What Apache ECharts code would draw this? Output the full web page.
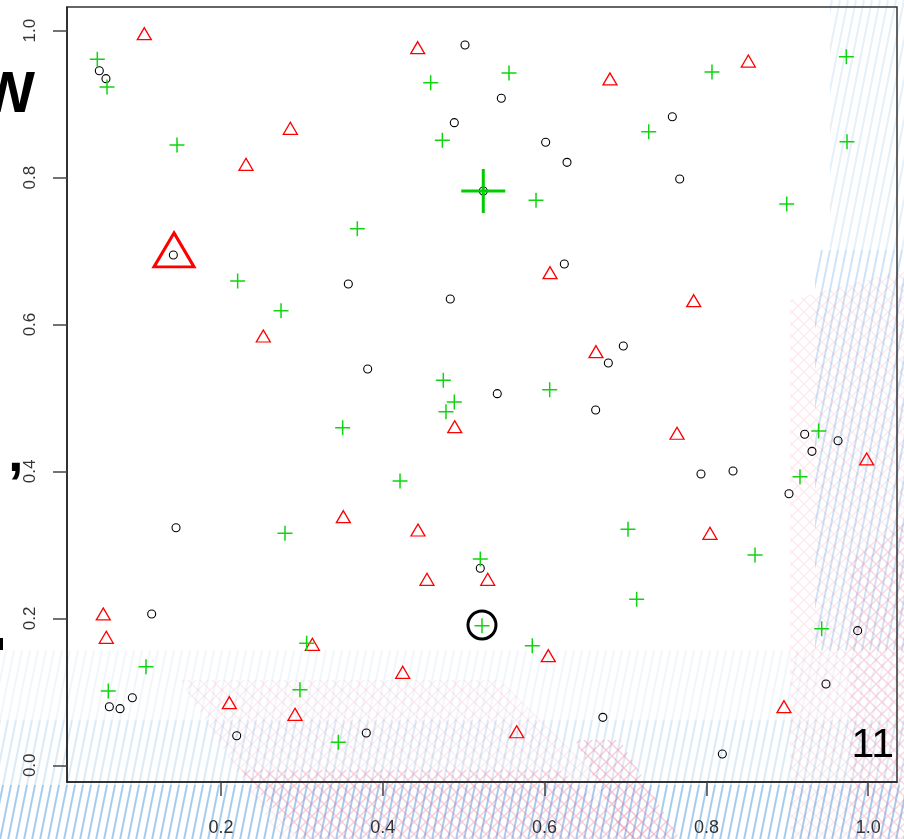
<!DOCTYPE html>
<html>
<head>
<meta charset="utf-8">
<script src="https://cdn.jsdelivr.net/npm/echarts@6/dist/echarts.min.js"></script>
<style>
  html, body { margin: 0; padding: 0; background: #ffffff; }
  #chart { width: 904px; height: 839px; }
</style>
</head>
<body>
<div id="chart"></div>
<script>
// ---- point sets ----
const circleX = [0.5016, 0.5465, 0.0496, 0.0578, 0.4884, 0.6013, 0.6277, 0.6244, 0.5242, 0.7579,
                 0.7670, 0.1411, 0.1444, 0.3574, 0.4834, 0.3813, 0.5415, 0.6631, 0.6973, 0.6788,
                 0.9215, 0.9627, 0.9305, 0.7933, 0.8329, 0.9021, 0.1143, 0.0620, 0.0752, 0.0904,
                 0.2194, 0.5205, 0.3796, 0.6720, 0.9870, 0.9478, 0.8197];
const circleY = [0.9805, 0.9080, 0.9455, 0.9347, 0.8748, 0.8481, 0.8208, 0.6824, 0.7818, 0.8829,
                 0.7981, 0.6947, 0.3234, 0.6552, 0.6348, 0.5395, 0.5059, 0.4837, 0.5708, 0.5476,
                 0.4506, 0.4419, 0.4274, 0.3965, 0.4006, 0.3697, 0.2060, 0.0798, 0.0771, 0.0920,
                 0.0403, 0.2682, 0.0440, 0.0653, 0.1833, 0.1107, 0.0154];

const triangleX = [0.1052, 0.2857, 0.2309, 0.4431, 0.6067, 0.6808, 0.8518, 0.2523, 0.6635, 0.4889,
                   0.3512, 0.4435, 0.7843, 0.7637, 0.9981, 0.8044, 0.0545, 0.0582, 0.2103, 0.2915,
                   0.4546, 0.5297, 0.3129, 0.4246, 0.6046, 0.5655, 0.8959];
const triangleY = [0.9959, 0.8671, 0.8181, 0.9769, 0.6706, 0.9343, 0.9587, 0.5844, 0.5630, 0.4609,
                   0.3384, 0.3203, 0.6325, 0.4520, 0.4170, 0.3158, 0.2060, 0.1742, 0.0852, 0.0694,
                   0.2532, 0.2532, 0.1647, 0.1266, 0.1492, 0.0457, 0.0798];

const plusX = [0.0471, 0.0591, 0.1456, 0.5560, 0.4592, 0.4736, 0.5894, 0.3685, 0.9730, 0.8069,
               0.7287, 0.9738, 0.8993, 0.2206, 0.2742, 0.2791, 0.4748, 0.4884, 0.4781, 0.6063,
               0.3504, 0.4213, 0.5205, 0.9388, 0.9157, 0.7031, 0.8601, 0.1073, 0.0607, 0.2976,
               0.3059, 0.3450, 0.5848, 0.5226, 0.7138, 0.9425];
const plusY = [0.9611, 0.9234, 0.8444, 0.9424, 0.9292, 0.8508, 0.7691, 0.7305, 0.9646, 0.9438,
               0.8625, 0.8489, 0.7641, 0.6593, 0.6188, 0.3158, 0.5241, 0.4946, 0.4814, 0.5113,
               0.4596, 0.3870, 0.2809, 0.4551, 0.3929, 0.3213, 0.2863, 0.1342, 0.1011, 0.1027,
               0.1661, 0.0313, 0.1628, 0.1900, 0.2260, 0.1860];

// one enlarged marker per group
const bigTriangleX = [0.1419];
const bigTriangleY = [0.7015];
const bigPlusX = [0.5242];
const bigPlusY = [0.7818];
const bigCircleX = [0.5226];
const bigCircleY = [0.1910];

// axis ticks
const xTicks = [0.2, 0.4, 0.6, 0.8, 1.0];
const yTicks = [0.0, 0.2, 0.4, 0.6, 0.8, 1.0];

const zip = (xs, ys) => xs.map((x, i) => [x, ys[i]]);

// ---- background texture (repeating stripes / mesh) ----
function stripeTile() {
  const c = document.createElement('canvas');
  c.width = 8; c.height = 40;
  const g = c.getContext('2d');
  g.strokeStyle = 'rgba(105,170,225,0.8)';
  g.lineWidth = 2;
  [[0, 40, 8, 0], [-8, 40, 0, 0], [8, 40, 16, 0]].forEach(([a, b, cc, d]) => {
    g.beginPath(); g.moveTo(a, b); g.lineTo(cc, d); g.stroke();
  });
  return c;
}
function meshTile() {
  const c = document.createElement('canvas');
  c.width = 12; c.height = 12;
  const g = c.getContext('2d');
  g.strokeStyle = 'rgba(235,110,145,0.8)';
  g.lineWidth = 1.3;
  g.beginPath(); g.moveTo(0, 0); g.lineTo(12, 12); g.stroke();
  g.beginPath(); g.moveTo(0, 12); g.lineTo(12, 0); g.stroke();
  return c;
}
const stripes = { image: stripeTile(), repeat: 'repeat' };
const mesh = { image: meshTile(), repeat: 'repeat' };

function band(points, fill, opacity) {
  return { type: 'polygon', silent: true, z: -5,
           shape: { points: points }, style: { fill: fill, opacity: opacity } };
}

const FONT = '"Liberation Sans", Arial, sans-serif';

const decor = [
  // blue stripes along the bottom margin and lower plot area
  band([[0, 785], [904, 785], [904, 839], [0, 839]], stripes, 0.75),
  band([[0, 720], [904, 720], [904, 785], [0, 785]], stripes, 0.3),
  band([[0, 650], [904, 650], [904, 720], [0, 720]], stripes, 0.12),
  // blue stripes up the right edge
  band([[830, 0], [904, 0], [904, 250], [830, 250]], stripes, 0.22),
  band([[815, 250], [904, 250], [904, 650], [815, 650]], stripes, 0.4),
  // pink mesh: diagonal band across the bottom and the right side
  band([[180, 680], [500, 680], [660, 839], [280, 839]], mesh, 0.16),
  band([[240, 770], [560, 770], [640, 839], [300, 839]], mesh, 0.3),
  band([[575, 740], [620, 740], [680, 839], [625, 839]], mesh, 0.45),
  band([[790, 300], [904, 270], [904, 839], [790, 839]], mesh, 0.18),
  band([[850, 560], [904, 520], [904, 839], [850, 839]], mesh, 0.2),
  // overlapping lettering at the edges
  { type: 'text', z: 10, silent: true, style: { text: 'W', x: 35, y: 125, align: 'right', verticalAlign: 'bottom',
      font: 'bold 58px ' + FONT, fill: '#000' } },
  { type: 'text', z: 10, silent: true, style: { text: ',', x: 8, y: 484, align: 'left', verticalAlign: 'bottom',
      font: 'bold 56px ' + FONT, fill: '#000' } },
  { type: 'text', z: 10, silent: true, style: { text: '11', x: 894, y: 766, align: 'right', verticalAlign: 'bottom',
      font: 'normal 41px ' + FONT, fill: '#000' } },
  { type: 'rect', z: 10, silent: true, shape: { x: 0, y: 638, width: 3, height: 12 }, style: { fill: '#000' } }
];

const plusPath = 'path://M10,0L10,20M0,10L20,10';

const chart = echarts.init(document.getElementById('chart'), null, { renderer: 'canvas' });
chart.setOption({
  animation: false,
  backgroundColor: '#ffffff',
  graphic: decor,
  grid: { left: 67, top: 7, width: 830, height: 775, show: true,
          borderColor: '#333', borderWidth: 1.5, backgroundColor: 'transparent' },
  xAxis: {
    type: 'value', min: 0.00964, max: 1.0356,
    splitLine: { show: false },
    axisLine: { show: true, onZero: false, lineStyle: { color: '#222', width: 1.5 } },
    axisTick: { show: true, inside: false, length: 14, customValues: xTicks,
                lineStyle: { color: '#444', width: 1.5 } },
    axisLabel: { customValues: xTicks, margin: 37, color: '#333',
                 fontFamily: FONT, fontSize: 18,
                 formatter: v => v.toFixed(1) }
  },
  yAxis: {
    type: 'value', min: -0.02273, max: 1.03226,
    splitLine: { show: false },
    axisLine: { show: true, onZero: false, lineStyle: { color: '#222', width: 1.5 } },
    axisTick: { show: true, inside: false, length: 14, customValues: yTicks,
                lineStyle: { color: '#444', width: 1.5 } },
    axisLabel: { customValues: yTicks, margin: 28, rotate: 90, color: '#333',
                 fontFamily: FONT, fontSize: 17,
                 formatter: v => v.toFixed(1) }
  },
  series: [
    { type: 'scatter', name: 'circle', data: zip(circleX, circleY), symbol: 'circle', symbolSize: 8,
      itemStyle: { color: 'rgba(0,0,0,0)', borderColor: '#000', borderWidth: 1.1, opacity: 1 }, z: 3 },
    { type: 'scatter', name: 'triangle', data: zip(triangleX, triangleY), symbol: 'triangle', symbolSize: [14, 12],
      itemStyle: { color: 'rgba(0,0,0,0)', borderColor: '#ff0000', borderWidth: 1.3, opacity: 1 }, z: 3 },
    { type: 'scatter', name: 'plus', data: zip(plusX, plusY), symbol: plusPath, symbolSize: 15,
      itemStyle: { color: 'rgba(0,0,0,0)', borderColor: '#11d411', borderWidth: 1.5, opacity: 1 }, z: 4 },
    { type: 'scatter', name: 'triangle-big', data: zip(bigTriangleX, bigTriangleY), symbol: 'triangle', symbolSize: [40, 34],
      itemStyle: { color: 'rgba(0,0,0,0)', borderColor: '#ff0000', borderWidth: 3, opacity: 1 }, z: 5 },
    { type: 'scatter', name: 'plus-big', data: zip(bigPlusX, bigPlusY), symbol: plusPath, symbolSize: 44,
      itemStyle: { color: 'rgba(0,0,0,0)', borderColor: '#00cd00', borderWidth: 3, opacity: 1 }, z: 5 },
    { type: 'scatter', name: 'circle-big', data: zip(bigCircleX, bigCircleY), symbol: 'circle', symbolSize: 28,
      itemStyle: { color: 'rgba(0,0,0,0)', borderColor: '#000', borderWidth: 3, opacity: 1 }, z: 5 }
  ]
});
</script>
</body>
</html>
